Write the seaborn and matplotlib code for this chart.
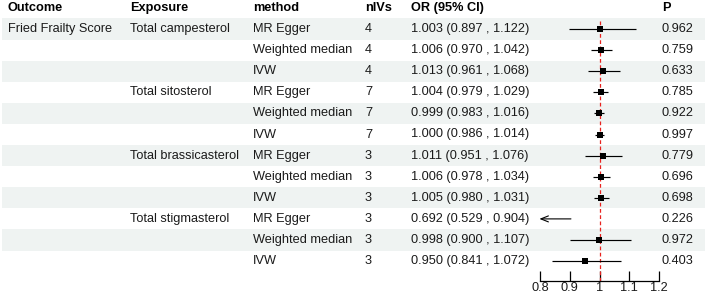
import numpy as np
import pandas as pd
import matplotlib
matplotlib.use("Agg")
import matplotlib.pyplot as plt
import seaborn as sns

sns.set_theme(style="white")
plt.rcParams['font.family'] = ['Liberation Sans', 'DejaVu Sans']

# ---------------- data ----------------
outcome = ["Fried Frailty Score", "", "", "", "", "", "", "", "", "", "", ""]
exposure = ["Total campesterol", "", "", "Total sitosterol", "", "",
            "Total brassicasterol", "", "", "Total stigmasterol", "", ""]
method = ["MR Egger", "Weighted median", "IVW"] * 4
nivs = [4, 4, 4, 7, 7, 7, 3, 3, 3, 3, 3, 3]
or_est = [1.003, 1.006, 1.013, 1.004, 0.999, 1.000, 1.011, 1.006, 1.005, 0.692, 0.998, 0.950]
ci_low = [0.897, 0.970, 0.961, 0.979, 0.983, 0.986, 0.951, 0.978, 0.980, 0.529, 0.900, 0.841]
ci_high = [1.122, 1.042, 1.068, 1.029, 1.016, 1.014, 1.076, 1.034, 1.031, 0.904, 1.107, 1.072]
pvals = ["0.962", "0.759", "0.633", "0.785", "0.922", "0.997",
         "0.779", "0.696", "0.698", "0.226", "0.972", "0.403"]
headers = ["Outcome", "Exposure", "method", "nIVs", "OR (95% CI)", "P"]
xticks = [0.8, 0.9, 1.0, 1.1, 1.2]
xtick_labels = ["0.8", "0.9", "1", "1.1", "1.2"]
ref_line = 1.0

df = pd.DataFrame({"row": np.arange(len(or_est)), "or": or_est,
                   "lo": ci_low, "hi": ci_high})

# ---------------- layout (pixels) ----------------
W, H = 709, 297
fig = plt.figure(figsize=(W / 100, H / 100), dpi=100)
tab = fig.add_axes([0, 0, 1, 1])
tab.set_xlim(0, W)
tab.set_ylim(H, 0)
tab.axis("off")

row0 = 29.0
pitch = 21.1
header_y = 8
col_x = [8, 130, 253, 365, 411, 662]
fs = 9.2
txt_color = "#1a1a1a"

n = len(or_est)
for i in range(n):
    yc = row0 + i * pitch
    if i % 2 == 0:
        tab.add_patch(plt.Rectangle((2, yc - pitch / 2), 703, pitch,
                                    facecolor="#eff3f2", edgecolor="none", zorder=0))

for x, h in zip(col_x, headers):
    tab.text(x, header_y, h, fontsize=fs, fontweight="bold", va="center",
             ha="left", color="black")

for i in range(n):
    yc = row0 + i * pitch
    or_txt = f"{or_est[i]:.3f} ({ci_low[i]:.3f} , {ci_high[i]:.3f})"
    vals = [outcome[i], exposure[i], method[i], str(nivs[i]), or_txt, pvals[i]]
    for x, v in zip(col_x, vals):
        tab.text(x, yc, v, fontsize=fs, va="center", ha="left", color=txt_color)

# ---------------- forest panel ----------------
xmin, xmax = 0.8, 1.2
px_left, px_right = 540, 659
px_top, px_axis = 19, 281
fax = fig.add_axes([px_left / W, (H - px_axis) / H,
                    (px_right - px_left) / W, (px_axis - px_top) / H])
fax.patch.set_alpha(0)
top_row = (px_top - row0) / pitch
bot_row = (px_axis - row0) / pitch
fax.set_xlim(xmin, xmax)
fax.set_ylim(bot_row, top_row)

fax.axvline(ref_line, color="#e8231f", ls=(0, (3, 2)), lw=0.9, zorder=1)

for r, lo, hi in zip(df["row"], df["lo"], df["hi"]):
    lo_c, hi_c = max(lo, xmin), min(hi, xmax)
    if lo < xmin:
        fax.annotate("", xy=(xmin - 0.002, r), xytext=(hi_c, r),
                     arrowprops=dict(arrowstyle="->,head_length=0.45,head_width=0.18",
                                     color="black", lw=0.8, shrinkA=0, shrinkB=0),
                     annotation_clip=False)
    else:
        fax.hlines(r, lo_c, hi_c, color="black", lw=0.85, zorder=2)

inside = df[(df["or"] >= xmin) & (df["or"] <= xmax)]
sns.scatterplot(data=inside, x="or", y="row", marker="s", color="black",
                s=16, linewidth=0, ax=fax, zorder=3, legend=False)

for s in ["top", "right", "left"]:
    fax.spines[s].set_visible(False)
fax.spines["bottom"].set_color("black")
fax.spines["bottom"].set_linewidth(0.9)
fax.set_xticks(xticks)
fax.set_xticklabels(xtick_labels, fontsize=fs, color=txt_color)
fax.tick_params(axis="x", direction="in", length=7, width=0.9, colors="black",
                pad=1, labelcolor=txt_color, bottom=True)
fax.set_yticks([])
fax.set_xlabel("")
fax.set_ylabel("")

fig.savefig("out.png", dpi=100)
